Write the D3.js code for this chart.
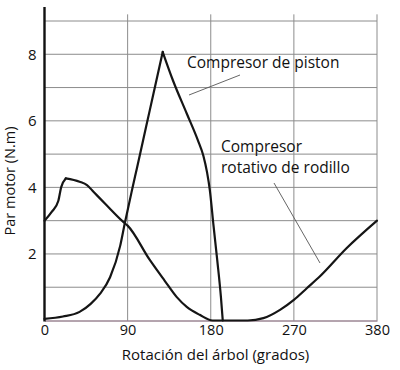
<!DOCTYPE html>
<html>
<head>
<meta charset="utf-8">
<script src="https://cdn.jsdelivr.net/npm/d3@7"></script>
<style>
  html, body { margin: 0; padding: 0; background: #fff; }
  #chart { width: 400px; height: 370px; }
  text { font-family: "Open Sans", "Noto Sans", sans-serif; fill: #111; }
</style>
</head>
<body>
<div id="chart"></div>
<script>
// data
const pistonDeg = [0, 20, 38, 50, 60, 71, 82, 87, 95, 100, 110, 118, 128, 139, 154, 166, 172, 176, 179, 183, 187, 191, 193];
const pistonTorque = [0.05, 0.12, 0.26, 0.5, 0.8, 1.3, 2.25, 2.93, 3.95, 4.57, 5.82, 6.82, 8.07, 7.22, 6.22, 5.42, 4.95, 4.45, 3.92, 2.85, 1.82, 0.71, 0];

const rotaryDeg = [0, 8, 15, 18, 23, 38, 46, 53, 67, 85, 90, 114, 130, 143, 154, 168, 182, 200, 220, 237, 255, 270, 284, 298, 327, 360];
const rotaryTorque = [3.0, 3.27, 3.6, 4.0, 4.27, 4.17, 4.07, 3.87, 3.47, 2.97, 2.85, 1.82, 1.2, 0.71, 0.41, 0.17, 0, 0, 0, 0.07, 0.32, 0.62, 0.97, 1.32, 2.17, 3.0];

const xTickValues = [0, 90, 180, 270, 360];
const xTickLabels = ["0", "90", "180", "270", "380"];
const yTickValues = [2, 4, 6, 8];
const yGridValues = [1, 2, 3, 4, 5, 6, 7, 8, 9];

const width = 400;
const height = 370;
const margin = { top: 21, right: 23, bottom: 49.5, left: 44.5 };

const svg = d3.select("#chart")
    .append("svg")
    .attr("width", width)
    .attr("height", height);

// scales
const x = d3.scaleLinear()
    .domain([0, 360])
    .range([margin.left, width - margin.right]);

const y = d3.scaleLinear()
    .domain([0, 9])
    .range([height - margin.bottom, margin.top]);

// grid lines
svg.append("g")
    .selectAll("line")
    .data(yGridValues)
    .join("line")
    .attr("x1", x(0))
    .attr("x2", x(360))
    .attr("y1", d => y(d))
    .attr("y2", d => y(d))
    .attr("stroke", "#8c8c8c")
    .attr("stroke-width", 1);

svg.append("g")
    .selectAll("line")
    .data(xTickValues.slice(1))
    .join("line")
    .attr("x1", d => x(d))
    .attr("x2", d => x(d))
    .attr("y1", y(0))
    .attr("y2", y(9.2))
    .attr("stroke", "#8c8c8c")
    .attr("stroke-width", 1);

// x axis
const xAxis = svg.append("g")
    .attr("transform", `translate(0, ${y(0)})`)
    .call(d3.axisBottom(x)
        .tickValues(xTickValues)
        .tickFormat((d, i) => xTickLabels[i])
        .tickSize(0)
        .tickPadding(4));
xAxis.select(".domain").attr("stroke", "#6b4a5e").attr("stroke-width", 1);
xAxis.selectAll("text")
    .style("font-size", "14.5px")
    .style("fill", "#111");

// y axis
const yAxis = svg.append("g")
    .attr("transform", `translate(${x(0)}, 0)`)
    .call(d3.axisLeft(y)
        .tickValues(yTickValues)
        .tickFormat(d3.format("d"))
        .tickSize(0)
        .tickPadding(8));
yAxis.select(".domain").remove();
yAxis.selectAll("text")
    .style("font-size", "15px")
    .style("fill", "#111");

svg.append("line")
    .attr("x1", x(0))
    .attr("x2", x(0))
    .attr("y1", y(0) + 1)
    .attr("y2", y(9.42))
    .attr("stroke", "#111")
    .attr("stroke-width", 2.4);

// curves: split each series at its peak so the corner stays sharp
const line = d3.line()
    .x(d => x(d[0]))
    .y(d => y(d[1]))
    .curve(d3.curveMonotoneX);

const splitAtPeak = (xs, ys) => {
    const pts = d3.zip(xs, ys);
    const k = d3.maxIndex(ys);
    return [pts.slice(0, k + 1), pts.slice(k)];
};

const drawSeries = (xs, ys) => {
    splitAtPeak(xs, ys).forEach(part => {
        svg.append("path")
            .datum(part)
            .attr("d", line)
            .attr("fill", "none")
            .attr("stroke", "#151515")
            .attr("stroke-width", 2.2)
            .attr("stroke-linejoin", "round")
            .attr("stroke-linecap", "round");
    });
};

drawSeries(pistonDeg, pistonTorque);
drawSeries(rotaryDeg, rotaryTorque);

// leader lines
svg.append("line")
    .attr("x1", 240).attr("y1", 75)
    .attr("x2", 189).attr("y2", 95)
    .attr("stroke", "#555")
    .attr("stroke-width", 0.9);

svg.append("line")
    .attr("x1", 274).attr("y1", 183)
    .attr("x2", 320).attr("y2", 263)
    .attr("stroke", "#555")
    .attr("stroke-width", 0.9);

// annotations
svg.append("text")
    .attr("x", 187).attr("y", 68)
    .style("font-size", "15.5px")
    .text("Compresor de piston");

svg.append("text")
    .attr("x", 221).attr("y", 152)
    .style("font-size", "15.5px")
    .text("Compresor");

svg.append("text")
    .attr("x", 221).attr("y", 173)
    .style("font-size", "15.5px")
    .text("rotativo de rodillo");

// axis titles
svg.append("text")
    .attr("x", 215.5).attr("y", 360)
    .attr("text-anchor", "middle")
    .style("font-size", "15px")
    .text("Rotación del árbol (grados)");

svg.append("text")
    .attr("transform", "translate(15, 181) rotate(-90)")
    .attr("text-anchor", "middle")
    .style("font-size", "14.5px")
    .text("Par motor (N.m)");
</script>
</body>
</html>
